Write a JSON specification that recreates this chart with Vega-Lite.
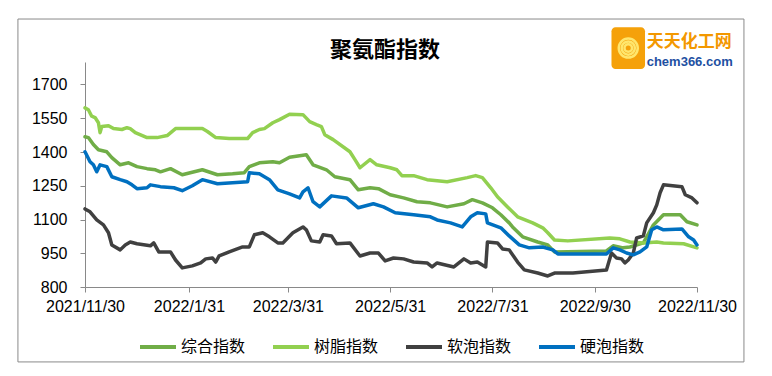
{
  "$schema": "https://vega.github.io/schema/vega-lite/v6.json",
  "width": 612,
  "height": 225,
  "autosize": {"type": "none"},
  "padding": {"left": 85, "top": 62, "right": 75, "bottom": 89},
  "background": "white",
  "title": {"text": "聚氨酯指数", "font": "Noto Sans CJK SC", "fontSize": 22, "fontWeight": "bold", "color": "#000000", "anchor": "middle", "frame": "group", "offset": 4, "dx": -6, "dy": 47},
  "config": {"view": {"stroke": null}, "axisY": {"labelOverlap": false}, "axisX": {"labelOverlap": false}, "legend": {"layout": {"bottom": {"anchor": "middle"}}}},
  "layer": [
    {
      "data": {"values": [
        {"d":"2021-11-30","s":"综合指数","v":1468},{"d":"2021-12-02","s":"综合指数","v":1464},{"d":"2021-12-05","s":"综合指数","v":1433},{"d":"2021-12-08","s":"综合指数","v":1410},{"d":"2021-12-13","s":"综合指数","v":1401},{"d":"2021-12-16","s":"综合指数","v":1375},{"d":"2021-12-21","s":"综合指数","v":1343},{"d":"2021-12-26","s":"综合指数","v":1352},{"d":"2021-12-31","s":"综合指数","v":1335},{"d":"2022-01-06","s":"综合指数","v":1326},{"d":"2022-01-11","s":"综合指数","v":1321},{"d":"2022-01-14","s":"综合指数","v":1312},{"d":"2022-01-20","s":"综合指数","v":1326},{"d":"2022-01-27","s":"综合指数","v":1299},{"d":"2022-02-08","s":"综合指数","v":1321},{"d":"2022-02-17","s":"综合指数","v":1299},{"d":"2022-02-26","s":"综合指数","v":1303},{"d":"2022-03-05","s":"综合指数","v":1308},{"d":"2022-03-08","s":"综合指数","v":1335},{"d":"2022-03-14","s":"综合指数","v":1352},{"d":"2022-03-22","s":"综合指数","v":1357},{"d":"2022-03-26","s":"综合指数","v":1352},{"d":"2022-04-01","s":"综合指数","v":1377},{"d":"2022-04-11","s":"综合指数","v":1388},{"d":"2022-04-15","s":"综合指数","v":1343},{"d":"2022-04-23","s":"综合指数","v":1321},{"d":"2022-04-28","s":"综合指数","v":1290},{"d":"2022-05-07","s":"综合指数","v":1277},{"d":"2022-05-12","s":"综合指数","v":1232},{"d":"2022-05-19","s":"综合指数","v":1241},{"d":"2022-05-24","s":"综合指数","v":1237},{"d":"2022-05-31","s":"综合指数","v":1210},{"d":"2022-06-08","s":"综合指数","v":1196},{"d":"2022-06-16","s":"综合指数","v":1179},{"d":"2022-06-24","s":"综合指数","v":1174},{"d":"2022-07-04","s":"综合指数","v":1156},{"d":"2022-07-14","s":"综合指数","v":1170},{"d":"2022-07-19","s":"综合指数","v":1188},{"d":"2022-07-25","s":"综合指数","v":1174},{"d":"2022-07-31","s":"综合指数","v":1152},{"d":"2022-08-05","s":"综合指数","v":1121},{"d":"2022-08-10","s":"综合指数","v":1085},{"d":"2022-08-12","s":"综合指数","v":1067},{"d":"2022-08-18","s":"综合指数","v":1023},{"d":"2022-08-27","s":"综合指数","v":1000},{"d":"2022-09-02","s":"综合指数","v":987},{"d":"2022-09-06","s":"综合指数","v":956},{"d":"2022-10-07","s":"综合指数","v":960},{"d":"2022-10-11","s":"综合指数","v":983},{"d":"2022-10-17","s":"综合指数","v":974},{"d":"2022-10-21","s":"综合指数","v":978},{"d":"2022-10-29","s":"综合指数","v":996},{"d":"2022-11-04","s":"综合指数","v":1076},{"d":"2022-11-10","s":"综合指数","v":1121},{"d":"2022-11-20","s":"综合指数","v":1121},{"d":"2022-11-24","s":"综合指数","v":1090},{"d":"2022-11-30","s":"综合指数","v":1076},
        {"d":"2021-11-30","s":"树脂指数","v":1596},{"d":"2021-12-02","s":"树脂指数","v":1588},{"d":"2021-12-04","s":"树脂指数","v":1559},{"d":"2021-12-06","s":"树脂指数","v":1553},{"d":"2021-12-08","s":"树脂指数","v":1530},{"d":"2021-12-09","s":"树脂指数","v":1486},{"d":"2021-12-10","s":"树脂指数","v":1513},{"d":"2021-12-14","s":"树脂指数","v":1517},{"d":"2021-12-17","s":"树脂指数","v":1504},{"d":"2021-12-22","s":"树脂指数","v":1500},{"d":"2021-12-25","s":"树脂指数","v":1508},{"d":"2021-12-27","s":"树脂指数","v":1504},{"d":"2021-12-30","s":"树脂指数","v":1486},{"d":"2022-01-06","s":"树脂指数","v":1464},{"d":"2022-01-12","s":"树脂指数","v":1464},{"d":"2022-01-18","s":"树脂指数","v":1473},{"d":"2022-01-23","s":"树脂指数","v":1504},{"d":"2022-02-08","s":"树脂指数","v":1504},{"d":"2022-02-11","s":"树脂指数","v":1491},{"d":"2022-02-16","s":"树脂指数","v":1464},{"d":"2022-02-24","s":"树脂指数","v":1460},{"d":"2022-03-07","s":"树脂指数","v":1460},{"d":"2022-03-10","s":"树脂指数","v":1486},{"d":"2022-03-14","s":"树脂指数","v":1500},{"d":"2022-03-17","s":"树脂指数","v":1504},{"d":"2022-03-22","s":"树脂指数","v":1530},{"d":"2022-03-26","s":"树脂指数","v":1544},{"d":"2022-04-01","s":"树脂指数","v":1568},{"d":"2022-04-09","s":"树脂指数","v":1566},{"d":"2022-04-13","s":"树脂指数","v":1535},{"d":"2022-04-17","s":"树脂指数","v":1522},{"d":"2022-04-20","s":"树脂指数","v":1513},{"d":"2022-04-22","s":"树脂指数","v":1477},{"d":"2022-04-27","s":"树脂指数","v":1455},{"d":"2022-05-07","s":"树脂指数","v":1401},{"d":"2022-05-10","s":"树脂指数","v":1366},{"d":"2022-05-13","s":"树脂指数","v":1330},{"d":"2022-05-19","s":"树脂指数","v":1366},{"d":"2022-05-23","s":"树脂指数","v":1343},{"d":"2022-05-31","s":"树脂指数","v":1330},{"d":"2022-06-04","s":"树脂指数","v":1321},{"d":"2022-06-07","s":"树脂指数","v":1295},{"d":"2022-06-14","s":"树脂指数","v":1295},{"d":"2022-06-22","s":"树脂指数","v":1277},{"d":"2022-07-04","s":"树脂指数","v":1268},{"d":"2022-07-16","s":"树脂指数","v":1286},{"d":"2022-07-21","s":"树脂指数","v":1295},{"d":"2022-07-25","s":"树脂指数","v":1286},{"d":"2022-07-30","s":"树脂指数","v":1241},{"d":"2022-08-03","s":"树脂指数","v":1201},{"d":"2022-08-09","s":"树脂指数","v":1156},{"d":"2022-08-15","s":"树脂指数","v":1112},{"d":"2022-08-24","s":"树脂指数","v":1085},{"d":"2022-08-30","s":"树脂指数","v":1063},{"d":"2022-09-02","s":"树脂指数","v":1041},{"d":"2022-09-06","s":"树脂指数","v":1009},{"d":"2022-09-14","s":"树脂指数","v":1005},{"d":"2022-10-09","s":"树脂指数","v":1018},{"d":"2022-10-15","s":"树脂指数","v":1014},{"d":"2022-10-21","s":"树脂指数","v":1000},{"d":"2022-10-29","s":"树脂指数","v":996},{"d":"2022-11-06","s":"树脂指数","v":1000},{"d":"2022-11-10","s":"树脂指数","v":996},{"d":"2022-11-22","s":"树脂指数","v":992},{"d":"2022-11-30","s":"树脂指数","v":974},
        {"d":"2021-11-30","s":"软泡指数","v":1147},{"d":"2021-12-03","s":"软泡指数","v":1134},{"d":"2021-12-07","s":"软泡指数","v":1098},{"d":"2021-12-11","s":"软泡指数","v":1076},{"d":"2021-12-14","s":"软泡指数","v":1041},{"d":"2021-12-16","s":"软泡指数","v":987},{"d":"2021-12-21","s":"软泡指数","v":965},{"d":"2021-12-24","s":"软泡指数","v":987},{"d":"2021-12-27","s":"软泡指数","v":1000},{"d":"2021-12-31","s":"软泡指数","v":992},{"d":"2022-01-08","s":"软泡指数","v":983},{"d":"2022-01-10","s":"软泡指数","v":996},{"d":"2022-01-13","s":"软泡指数","v":956},{"d":"2022-01-20","s":"软泡指数","v":956},{"d":"2022-01-23","s":"软泡指数","v":920},{"d":"2022-01-27","s":"软泡指数","v":885},{"d":"2022-02-02","s":"软泡指数","v":894},{"d":"2022-02-07","s":"软泡指数","v":907},{"d":"2022-02-10","s":"软泡指数","v":925},{"d":"2022-02-14","s":"软泡指数","v":929},{"d":"2022-02-16","s":"软泡指数","v":911},{"d":"2022-02-18","s":"软泡指数","v":938},{"d":"2022-02-24","s":"软泡指数","v":956},{"d":"2022-03-04","s":"软泡指数","v":978},{"d":"2022-03-08","s":"软泡指数","v":978},{"d":"2022-03-11","s":"软泡指数","v":1032},{"d":"2022-03-16","s":"软泡指数","v":1041},{"d":"2022-03-20","s":"软泡指数","v":1023},{"d":"2022-03-25","s":"软泡指数","v":996},{"d":"2022-03-28","s":"软泡指数","v":996},{"d":"2022-04-03","s":"软泡指数","v":1041},{"d":"2022-04-09","s":"软泡指数","v":1067},{"d":"2022-04-11","s":"软泡指数","v":1054},{"d":"2022-04-14","s":"软泡指数","v":1005},{"d":"2022-04-19","s":"软泡指数","v":1000},{"d":"2022-04-21","s":"软泡指数","v":1032},{"d":"2022-04-26","s":"软泡指数","v":1027},{"d":"2022-04-29","s":"软泡指数","v":992},{"d":"2022-05-07","s":"软泡指数","v":996},{"d":"2022-05-13","s":"软泡指数","v":938},{"d":"2022-05-19","s":"软泡指数","v":951},{"d":"2022-05-24","s":"软泡指数","v":951},{"d":"2022-05-28","s":"软泡指数","v":916},{"d":"2022-06-02","s":"软泡指数","v":929},{"d":"2022-06-08","s":"软泡指数","v":925},{"d":"2022-06-14","s":"软泡指数","v":911},{"d":"2022-06-22","s":"软泡指数","v":907},{"d":"2022-06-25","s":"软泡指数","v":889},{"d":"2022-06-28","s":"软泡指数","v":907},{"d":"2022-07-08","s":"软泡指数","v":889},{"d":"2022-07-14","s":"软泡指数","v":925},{"d":"2022-07-18","s":"软泡指数","v":907},{"d":"2022-07-22","s":"软泡指数","v":911},{"d":"2022-07-27","s":"软泡指数","v":889},{"d":"2022-07-28","s":"软泡指数","v":1000},{"d":"2022-08-03","s":"软泡指数","v":996},{"d":"2022-08-06","s":"软泡指数","v":969},{"d":"2022-08-10","s":"软泡指数","v":965},{"d":"2022-08-15","s":"软泡指数","v":911},{"d":"2022-08-19","s":"软泡指数","v":876},{"d":"2022-08-27","s":"软泡指数","v":862},{"d":"2022-09-02","s":"软泡指数","v":849},{"d":"2022-09-06","s":"软泡指数","v":862},{"d":"2022-09-17","s":"软泡指数","v":862},{"d":"2022-10-07","s":"软泡指数","v":876},{"d":"2022-10-10","s":"软泡指数","v":951},{"d":"2022-10-13","s":"软泡指数","v":929},{"d":"2022-10-16","s":"软泡指数","v":925},{"d":"2022-10-18","s":"软泡指数","v":907},{"d":"2022-10-20","s":"软泡指数","v":920},{"d":"2022-10-23","s":"软泡指数","v":951},{"d":"2022-10-25","s":"软泡指数","v":1018},{"d":"2022-10-29","s":"软泡指数","v":1027},{"d":"2022-10-31","s":"软泡指数","v":1085},{"d":"2022-11-04","s":"软泡指数","v":1130},{"d":"2022-11-06","s":"软泡指数","v":1165},{"d":"2022-11-08","s":"软泡指数","v":1219},{"d":"2022-11-10","s":"软泡指数","v":1254},{"d":"2022-11-21","s":"软泡指数","v":1246},{"d":"2022-11-23","s":"软泡指数","v":1210},{"d":"2022-11-27","s":"软泡指数","v":1196},{"d":"2022-11-30","s":"软泡指数","v":1174},
        {"d":"2021-11-30","s":"硬泡指数","v":1401},{"d":"2021-12-03","s":"硬泡指数","v":1357},{"d":"2021-12-05","s":"硬泡指数","v":1343},{"d":"2021-12-07","s":"硬泡指数","v":1312},{"d":"2021-12-09","s":"硬泡指数","v":1343},{"d":"2021-12-13","s":"硬泡指数","v":1335},{"d":"2021-12-16","s":"硬泡指数","v":1290},{"d":"2021-12-21","s":"硬泡指数","v":1277},{"d":"2021-12-25","s":"硬泡指数","v":1268},{"d":"2021-12-28","s":"硬泡指数","v":1254},{"d":"2021-12-31","s":"硬泡指数","v":1237},{"d":"2022-01-06","s":"硬泡指数","v":1241},{"d":"2022-01-08","s":"硬泡指数","v":1254},{"d":"2022-01-14","s":"硬泡指数","v":1246},{"d":"2022-01-22","s":"硬泡指数","v":1241},{"d":"2022-01-27","s":"硬泡指数","v":1228},{"d":"2022-02-02","s":"硬泡指数","v":1250},{"d":"2022-02-08","s":"硬泡指数","v":1277},{"d":"2022-02-17","s":"硬泡指数","v":1259},{"d":"2022-02-26","s":"硬泡指数","v":1263},{"d":"2022-03-07","s":"硬泡指数","v":1268},{"d":"2022-03-08","s":"硬泡指数","v":1308},{"d":"2022-03-14","s":"硬泡指数","v":1303},{"d":"2022-03-20","s":"硬泡指数","v":1277},{"d":"2022-03-25","s":"硬泡指数","v":1232},{"d":"2022-04-01","s":"硬泡指数","v":1214},{"d":"2022-04-07","s":"硬泡指数","v":1196},{"d":"2022-04-09","s":"硬泡指数","v":1223},{"d":"2022-04-12","s":"硬泡指数","v":1241},{"d":"2022-04-15","s":"硬泡指数","v":1179},{"d":"2022-04-19","s":"硬泡指数","v":1156},{"d":"2022-04-26","s":"硬泡指数","v":1205},{"d":"2022-05-05","s":"硬泡指数","v":1196},{"d":"2022-05-12","s":"硬泡指数","v":1152},{"d":"2022-05-21","s":"硬泡指数","v":1170},{"d":"2022-05-27","s":"硬泡指数","v":1156},{"d":"2022-06-03","s":"硬泡指数","v":1130},{"d":"2022-06-14","s":"硬泡指数","v":1121},{"d":"2022-06-24","s":"硬泡指数","v":1112},{"d":"2022-06-28","s":"硬泡指数","v":1098},{"d":"2022-07-06","s":"硬泡指数","v":1085},{"d":"2022-07-13","s":"硬泡指数","v":1067},{"d":"2022-07-18","s":"硬泡指数","v":1112},{"d":"2022-07-22","s":"硬泡指数","v":1130},{"d":"2022-07-27","s":"硬泡指数","v":1125},{"d":"2022-07-28","s":"硬泡指数","v":1085},{"d":"2022-08-05","s":"硬泡指数","v":1063},{"d":"2022-08-10","s":"硬泡指数","v":1027},{"d":"2022-08-16","s":"硬泡指数","v":987},{"d":"2022-08-22","s":"硬泡指数","v":974},{"d":"2022-08-30","s":"硬泡指数","v":978},{"d":"2022-09-05","s":"硬泡指数","v":965},{"d":"2022-09-08","s":"硬泡指数","v":947},{"d":"2022-10-07","s":"硬泡指数","v":947},{"d":"2022-10-11","s":"硬泡指数","v":974},{"d":"2022-10-15","s":"硬泡指数","v":965},{"d":"2022-10-19","s":"硬泡指数","v":951},{"d":"2022-10-23","s":"硬泡指数","v":943},{"d":"2022-10-27","s":"硬泡指数","v":956},{"d":"2022-10-31","s":"硬泡指数","v":978},{"d":"2022-11-03","s":"硬泡指数","v":1054},{"d":"2022-11-06","s":"硬泡指数","v":1067},{"d":"2022-11-10","s":"硬泡指数","v":1054},{"d":"2022-11-21","s":"硬泡指数","v":1058},{"d":"2022-11-25","s":"硬泡指数","v":1023},{"d":"2022-11-28","s":"硬泡指数","v":1009},{"d":"2022-11-30","s":"硬泡指数","v":987}
      ]},
      "mark": {"type": "line", "strokeWidth": 3.5, "strokeJoin": "round", "strokeCap": "round"},
      "encoding": {
        "x": {
          "field": "d", "type": "temporal", "title": null,
          "scale": {"type": "utc", "domain": [{"year": 2021, "month": 11, "date": 30, "utc": true}, {"year": 2022, "month": 11, "date": 30, "utc": true}]},
          "axis": {
            "values": [{"year": 2021, "month": 11, "date": 30, "utc": true}, {"year": 2022, "month": 1, "date": 31, "utc": true}, {"year": 2022, "month": 3, "date": 31, "utc": true}, {"year": 2022, "month": 5, "date": 31, "utc": true}, {"year": 2022, "month": 7, "date": 31, "utc": true}, {"year": 2022, "month": 9, "date": 30, "utc": true}, {"year": 2022, "month": 11, "date": 30, "utc": true}],
            "tickCount": 20,
            "format": "%Y/%-m/%-d", "grid": false, "labelFont": "Liberation Sans", "labelFontSize": 16, "labelColor": "#000000",
            "labelFlush": false, "labelOverlap": false, "domainColor": "#898989", "tickColor": "#898989", "tickSize": 5, "labelPadding": 6
          }
        },
        "y": {
          "field": "v", "type": "quantitative", "title": null,
          "scale": {"domain": [800, 1800], "nice": false, "zero": false},
          "axis": {"values": [800, 950, 1100, 1250, 1400, 1550, 1700], "tickCount": 10, "format": "d", "grid": false, "labelOverlap": false, "labelFlush": false, "labelFont": "Liberation Sans", "labelFontSize": 16, "labelColor": "#000000", "domainColor": "#898989", "tickColor": "#898989", "tickSize": 5, "labelPadding": 13}
        },
        "color": {
          "field": "s", "type": "nominal",
          "scale": {"domain": ["综合指数", "树脂指数", "软泡指数", "硬泡指数"], "range": ["#70AD47", "#92D050", "#404040", "#0070C0"]},
          "legend": {"title": null, "orient": "bottom", "direction": "horizontal", "symbolType": "stroke", "symbolSize": 1296, "symbolStrokeWidth": 4, "labelFont": "Noto Sans CJK SC", "labelFontSize": 16, "labelColor": "#000000", "columnPadding": 19, "labelOffset": 3, "offset": 13}
        }
      }
    },
    {
      "data": {"values": [{}]},
      "mark": {"type": "rect", "fill": null, "stroke": "#898989", "strokeWidth": 1},
      "encoding": {
        "x": {"datum": {"year": 2021, "month": 10, "date": 21, "utc": true}, "type": "temporal"},
        "x2": {"datum": {"year": 2022, "month": 12, "date": 28, "utc": true}},
        "y": {"datum": 1991, "type": "quantitative"},
        "y2": {"datum": 467}
      }
    },
    {
      "data": {"values": [{}]},
      "mark": {"type": "rect", "fill": "#F5A10A", "cornerRadius": 4},
      "encoding": {
        "x": {"datum": {"year": 2022, "month": 10, "date": 10, "utc": true}, "type": "temporal"},
        "x2": {"datum": {"year": 2022, "month": 10, "date": 30, "utc": true}},
        "y": {"datum": 1955, "type": "quantitative"},
        "y2": {"datum": 1769}
      }
    },
    {
      "data": {"values": [{"r": 676}, {"r": 324}, {"r": 100}]},
      "mark": {"type": "point", "shape": "circle", "filled": false, "stroke": "#FFE66D", "strokeWidth": 2.5, "opacity": 1},
      "encoding": {
        "x": {"datum": {"year": 2022, "month": 10, "date": 20, "utc": true}, "type": "temporal"},
        "y": {"datum": 1862, "type": "quantitative"},
        "size": {"field": "r", "type": "quantitative", "scale": {"type": "identity"}, "legend": null}
      }
    },
    {
      "data": {"values": [{}]},
      "mark": {"type": "text", "text": "天天化工网", "font": "Noto Sans CJK SC", "fontWeight": "bold", "fontSize": 17, "fill": "#F39800", "align": "left", "baseline": "middle"},
      "encoding": {
        "x": {"datum": {"year": 2022, "month": 10, "date": 31, "utc": true}, "type": "temporal"},
        "y": {"datum": 1889, "type": "quantitative"}
      }
    },
    {
      "data": {"values": [{}]},
      "mark": {"type": "text", "text": "chem366.com", "font": "Liberation Sans", "fontWeight": "bold", "fontSize": 13, "fill": "#1E50A2", "align": "left", "baseline": "middle"},
      "encoding": {
        "x": {"datum": {"year": 2022, "month": 10, "date": 31, "utc": true}, "type": "temporal"},
        "y": {"datum": 1798, "type": "quantitative"}
      }
    }
  ]
}
